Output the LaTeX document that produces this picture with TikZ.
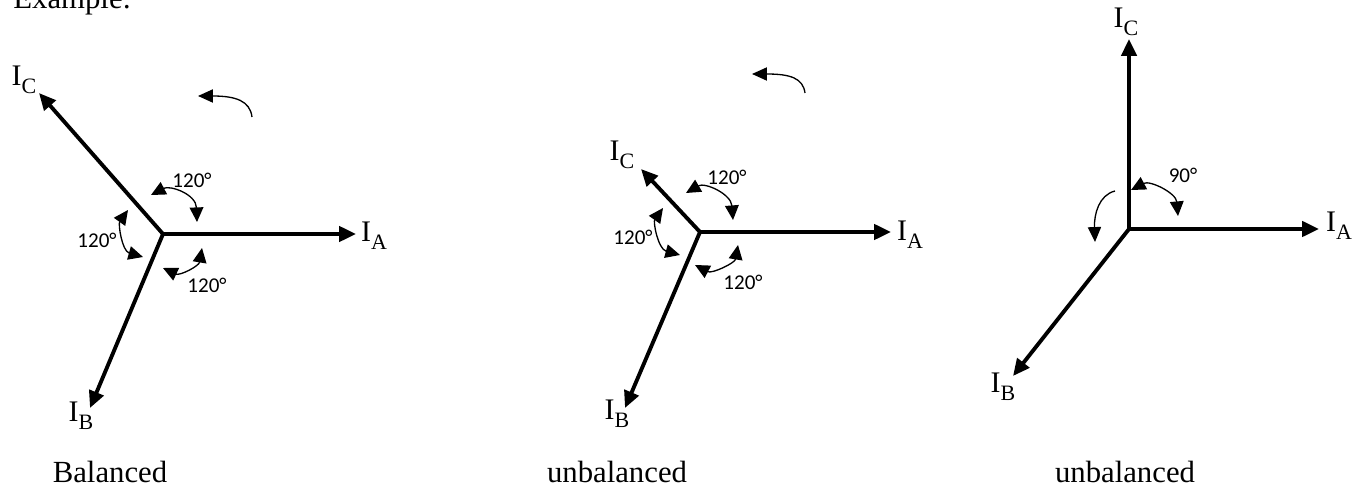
\documentclass[tikz,border=0pt]{standalone}
\usepackage{fontspec}
\setmainfont{Liberation Serif}
\newfontfamily\anglefont{Carlito}
\usetikzlibrary{arrows.meta}
\newcommand{\cur}[1]{I\raisebox{-0.28em}{\fontsize{12.5}{14}\selectfont #1}}
\begin{document}
\begin{tikzpicture}[x=0.02cm,y=-0.02cm,
  vec/.style={line width=2.2pt,-{Triangle[length=9.6pt,width=8.6pt]}},
  turn/.style={line width=0.75pt,-{Triangle[length=8.5pt,width=7.5pt]}},
  ang/.style={line width=0.75pt,{Triangle[length=8.3pt,width=7.8pt]}-{Triangle[length=8.3pt,width=7.8pt]}},
  lab/.style={inner sep=0pt,font=\fontsize{17}{20}\selectfont},
  deg/.style={inner sep=0pt,font=\anglefont\fontsize{12}{14}\selectfont},
  captxt/.style={inner sep=0pt,font=\fontsize{17.5}{20}\selectfont}]
\useasboundingbox (0,0) rectangle (1361,489);
% title (cropped at top, as in the reference)
\node[captxt,anchor=base west] (title) at (13,9) {Example:};
% ---------- diagram 1 ----------
\coordinate (o1) at (163,234);
\coordinate (a1) at (356,234);
\coordinate (c1) at (39,93);
\coordinate (b1) at (90,408);
\draw[vec] (o1) -- (a1);
\draw[vec] (o1) -- (c1);
\draw[vec] (o1) -- (b1);
\node[lab] (la1) at (374,236) {\cur{A}};
\node[lab] (lc1) at (24,80) {\cur{C}};
\node[lab] (lb1) at (81,416) {\cur{B}};
\coordinate (p1a) at (151,195); \coordinate (p1b) at (197,222);
\draw[ang] (p1a) .. controls (170,185) and (196,194) .. (p1b);
\coordinate (p1c) at (128,210); \coordinate (p1d) at (143,257);
\draw[ang] (p1c) .. controls (118,224) and (122,251) .. (p1d);
\coordinate (p1e) at (163,268); \coordinate (p1f) at (202,248);
\draw[ang] (p1e) .. controls (180,276) and (199,266) .. (p1f);
\node[deg] (d1a) at (192,180) {120°};
\node[deg] (d1b) at (97,240) {120°};
\node[deg] (d1c) at (207,285) {120°};
\coordinate (r1s) at (252,117); \coordinate (r1e) at (198,96);
\draw[turn] (r1s) .. controls (250,101) and (236,96) .. (r1e);
\node[captxt] (cap1) at (110,472) {Balanced};
% ---------- diagram 2 ----------
\coordinate (o2) at (700,232);
\coordinate (a2) at (891,232);
\coordinate (c2) at (641,169);
\coordinate (b2) at (625,408);
\draw[vec] (o2) -- (a2);
\draw[vec] (o2) -- (c2);
\draw[vec] (o2) -- (b2);
\node[lab] (la2) at (910,235) {\cur{A}};
\node[lab] (lc2) at (622,155) {\cur{C}};
\node[lab] (lb2) at (617,414) {\cur{B}};
\coordinate (p2a) at (686,193); \coordinate (p2b) at (733,220);
\draw[ang] (p2a) .. controls (705,182) and (731,194) .. (p2b);
\coordinate (p2c) at (663,208); \coordinate (p2d) at (680,255);
\draw[ang] (p2c) .. controls (653,222) and (658,249) .. (p2d);
\coordinate (p2e) at (695,265); \coordinate (p2f) at (738,245);
\draw[ang] (p2e) .. controls (712,274) and (735,263) .. (p2f);
\node[deg] (d2a) at (727,177) {120°};
\node[deg] (d2b) at (633,237) {120°};
\node[deg] (d2c) at (743,282) {120°};
\coordinate (r2s) at (805,93); \coordinate (r2e) at (752,74);
\draw[turn] (r2s) .. controls (803,78) and (790,74) .. (r2e);
\node[captxt] (cap2) at (617,472) {unbalanced};
% ---------- diagram 3 ----------
\coordinate (o3) at (1129,229);
\coordinate (a3) at (1319,229);
\coordinate (c3) at (1129,39);
\coordinate (b3) at (1013,376);
\draw[vec] (o3) -- (a3);
\draw[vec] (o3) -- (c3);
\draw[vec] (o3) -- (b3);
\node[lab] (la3) at (1339,226) {\cur{A}};
\node[lab] (lc3) at (1126,22) {\cur{C}};
\node[lab] (lb3) at (1003,387) {\cur{B}};
\coordinate (p3a) at (1131,190); \coordinate (p3b) at (1178,216);
\draw[ang] (p3a) .. controls (1150,180) and (1176,193) .. (p3b);
\node[deg] (d3a) at (1183,175) {90°};
\coordinate (r3s) at (1115,191); \coordinate (r3e) at (1095,242);
\draw[turn] (r3s) .. controls (1099,195) and (1094,214) .. (r3e);
\node[captxt] (cap3) at (1125,472) {unbalanced};
\end{tikzpicture}
\end{document}
